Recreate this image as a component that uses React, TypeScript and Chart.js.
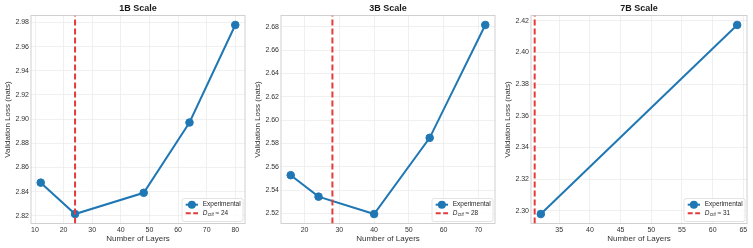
import React, { useEffect, useRef } from "react";
import { Chart, registerables } from "chart.js";

Chart.register(...registerables);

// ---- Data ----
const layers1B = [12, 24, 48, 64, 80];
const loss1B = [2.8474, 2.8214, 2.839, 2.8972, 2.978];
const dcrit1B = 24;
const xTicks1B = [10, 20, 30, 40, 50, 60, 70, 80];
const yTicks1B = [2.82, 2.84, 2.86, 2.88, 2.9, 2.92, 2.94, 2.96, 2.98];

const layers3B = [16, 24, 40, 56, 72];
const loss3B = [2.5528, 2.5344, 2.5195, 2.5848, 2.6815];
const dcrit3B = 28;
const xTicks3B = [20, 30, 40, 50, 60, 70];
const yTicks3B = [2.52, 2.54, 2.56, 2.58, 2.6, 2.62, 2.64, 2.66, 2.68];

const layers7B = [32, 64];
const loss7B = [2.298, 2.4173];
const dcrit7B = 31;
const xTicks7B = [35, 40, 45, 50, 55, 60, 65];
const yTicks7B = [2.3, 2.32, 2.34, 2.36, 2.38, 2.4, 2.42];

const titles = ["1B Scale", "3B Scale", "7B Scale"];

const FONT = "'Liberation Sans', Arial, Helvetica, sans-serif";
const BLUE = "#1f77b4";
const RED = "#e33b3b";

type Panel = {
  title: string;
  xs: number[];
  ys: number[];
  dcrit: number;
  xTicks: number[];
  yTicks: number[];
  width: number;
  padRight: number;
};

const panels: Panel[] = [
  { title: titles[0], xs: layers1B, ys: loss1B, dcrit: dcrit1B, xTicks: xTicks1B, yTicks: yTicks1B, width: 250, padRight: 3 },
  { title: titles[1], xs: layers3B, ys: loss3B, dcrit: dcrit3B, xTicks: xTicks3B, yTicks: yTicks3B, width: 250, padRight: 3 },
  { title: titles[2], xs: layers7B, ys: loss7B, dcrit: dcrit7B, xTicks: xTicks7B, yTicks: yTicks7B, width: 253, padRight: 6 },
];

function limits(vals: number[]) {
  const lo = Math.min(...vals);
  const hi = Math.max(...vals);
  const m = (hi - lo) * 0.05;
  return [lo - m, hi + m];
}

function PanelChart({ p }: { p: Panel }) {
  const ref = useRef<HTMLCanvasElement | null>(null);
  useEffect(() => {
    if (!ref.current) return;
    const [xMin, xMax] = limits(p.xs);
    const [yMin, yMax] = limits(p.ys);

    const framePlugin = {
      id: "frame",
      beforeDatasetsDraw(chart: any) {
        const { ctx, chartArea } = chart;
        ctx.save();
        ctx.strokeStyle = "#d0d0d0";
        ctx.lineWidth = 1;
        ctx.strokeRect(chartArea.left, chartArea.top, chartArea.right - chartArea.left, chartArea.bottom - chartArea.top);
        ctx.restore();
      },
    };

    const legendPlugin = {
      id: "customLegend",
      afterDraw(chart: any) {
        const { ctx, chartArea } = chart;
        const r = chartArea.right;
        const b = chartArea.bottom;
        ctx.save();
        const bx = r - 63, by = b - 25, bw = 61, bh = 23;
        ctx.beginPath();
        (ctx as any).roundRect(bx, by, bw, bh, 2);
        ctx.fillStyle = "rgba(255,255,255,0.85)";
        ctx.fill();
        ctx.strokeStyle = "#dddddd";
        ctx.lineWidth = 0.8;
        ctx.stroke();

        const y1 = b - 18.8;
        const y2 = b - 10.2;
        const hx0 = r - 59.3, hx1 = r - 47;
        ctx.strokeStyle = BLUE;
        ctx.lineWidth = 2;
        ctx.beginPath();
        ctx.moveTo(hx0, y1);
        ctx.lineTo(hx1, y1);
        ctx.stroke();
        ctx.fillStyle = BLUE;
        ctx.beginPath();
        ctx.arc((hx0 + hx1) / 2, y1, 4, 0, Math.PI * 2);
        ctx.fill();
        ctx.strokeStyle = RED;
        ctx.setLineDash([5, 2.5]);
        ctx.beginPath();
        ctx.moveTo(hx0, y2);
        ctx.lineTo(hx1, y2);
        ctx.stroke();
        ctx.setLineDash([]);

        const tx = r - 42.3;
        ctx.fillStyle = "#262626";
        ctx.textBaseline = "middle";
        ctx.textAlign = "left";
        ctx.font = `6.5px ${FONT}`;
        ctx.fillText("Experimental", tx, y1);
        ctx.font = `italic 6.5px ${FONT}`;
        ctx.fillText("D", tx, y2);
        let x = tx + ctx.measureText("D").width + 0.3;
        ctx.font = `italic 4.6px ${FONT}`;
        ctx.fillText("crit", x, y2 + 1.8);
        x += ctx.measureText("crit").width;
        ctx.font = `6.5px ${FONT}`;
        ctx.fillText(` \u2248 ${p.dcrit}`, x, y2);
        ctx.restore();
      },
    };

    const chart = new Chart(ref.current, {
      type: "line",
      data: {
        datasets: [
          {
            label: `D_crit ≈ ${p.dcrit}`,
            data: [
              { x: p.dcrit, y: yMin },
              { x: p.dcrit, y: yMax },
            ],
            borderColor: RED,
            borderWidth: 2,
            borderDash: [6, 3],
            pointRadius: 0,
            order: 0,
          },
          {
            label: "Experimental",
            data: p.xs.map((x, i) => ({ x, y: p.ys[i] })),
            borderColor: BLUE,
            backgroundColor: BLUE,
            borderWidth: 2,
            pointRadius: 3.8,
            pointBackgroundColor: BLUE,
            pointBorderColor: BLUE,
            pointBorderWidth: 1,
            order: 1,
          },
        ],
      },
      options: {
        animation: false,
        responsive: false,
        devicePixelRatio: 1,
        layout: { padding: { left: 0, right: p.padRight, top: 0, bottom: 0 } },
        plugins: {
          legend: { display: false },
          tooltip: { enabled: false },
          title: {
            display: true,
            text: p.title,
            fullSize: false,
            color: "#1a1a1a",
            font: { family: FONT, size: 9, weight: "bold" },
            padding: { top: 3, bottom: 1.7 },
          },
        },
        scales: {
          x: {
            type: "linear",
            min: xMin,
            max: xMax,
            afterBuildTicks: (scale: any) => {
              scale.ticks = p.xTicks.map((v) => ({ value: v }));
            },
            afterFit: (scale: any) => {
              scale.height = 24.5;
            },
            ticks: {
              color: "#333333",
              font: { family: FONT, size: 7 },
              padding: 2,
              maxRotation: 0,
              autoSkip: false,
              callback: (v: any) => String(v),
            },
            grid: { color: "#ececec", lineWidth: 0.8, drawTicks: false },
            border: { display: false },
            title: {
              display: true,
              text: "Number of Layers",
              color: "#333333",
              font: { family: FONT, size: 8 },
              padding: { top: 0, bottom: 4.2 },
            },
          },
          y: {
            type: "linear",
            min: yMin,
            max: yMax,
            afterBuildTicks: (scale: any) => {
              scale.ticks = p.yTicks.map((v) => ({ value: v }));
            },
            afterFit: (scale: any) => {
              scale.width = 31;
            },
            ticks: {
              color: "#333333",
              font: { family: FONT, size: 7 },
              padding: 2,
              autoSkip: false,
              callback: (v: any) => Number(v).toFixed(2),
            },
            grid: { color: "#ececec", lineWidth: 0.8, drawTicks: false },
            border: { display: false },
            title: {
              display: true,
              text: "Validation Loss (nats)",
              color: "#333333",
              font: { family: FONT, size: 8 },
              padding: { top: 2.5, bottom: 0 },
            },
          },
        },
      } as any,
      plugins: [framePlugin, legendPlugin],
    });
    return () => chart.destroy();
  }, [p]);
  return <canvas ref={ref} width={p.width} height={248} style={{ display: "block", width: p.width, height: 248 }} />;
}

export default function App() {
  useEffect(() => {
    document.body.style.margin = "0";
    document.body.style.background = "#ffffff";
  }, []);
  return (
    <div style={{ display: "flex", width: 753, height: 248, background: "#ffffff" }}>
      {panels.map((p) => (
        <PanelChart key={p.title} p={p} />
      ))}
    </div>
  );
}
